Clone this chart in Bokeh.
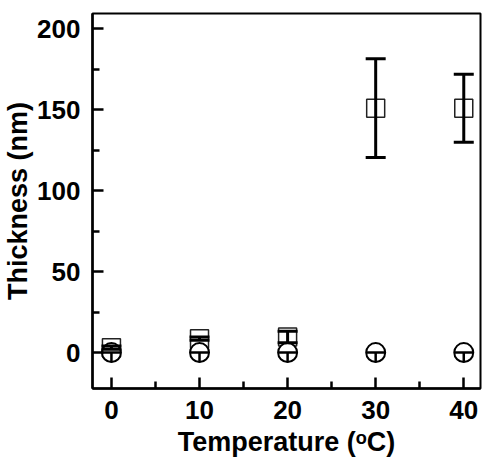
from bokeh.plotting import figure
from bokeh.models import ColumnDataSource, Whisker, TeeHead, Range1d, FixedTicker
from bokeh.embed import file_html
from bokeh.resources import INLINE

# Data
temperature = [0, 10, 20, 30, 40]
sq_thickness = [3.0, 8.6, 9.6, 151.0, 151.0]
sq_error = [1.0, 1.0, 3.6, 30.5, 21.0]
circ_thickness = [0.0, 0.0, 0.0, 0.0, 0.0]
circ_error_low = [6.0, 6.0, 6.0, 6.0, 6.0]
x_ticks = [0, 10, 20, 30, 40]
y_ticks = [0, 50, 100, 150, 200]

sq = ColumnDataSource(dict(
    x=temperature, y=sq_thickness,
    upper=[v + e for v, e in zip(sq_thickness, sq_error)],
    lower=[v - e for v, e in zip(sq_thickness, sq_error)],
))
ci = ColumnDataSource(dict(
    x=temperature, y=circ_thickness,
    upper=circ_thickness,
    lower=[v - e for v, e in zip(circ_thickness, circ_error_low)],
))

p = figure(width=486, height=466, output_backend="svg", toolbar_location=None,
           x_range=Range1d(-2.15, 41.9), y_range=Range1d(-22.2, 209.5),
           min_border_left=90, min_border_right=6, min_border_top=13, min_border_bottom=78)

p.scatter("x", "y", source=sq, marker="square", size=18, fill_alpha=0,
          line_color="#222222", line_width=1.5)
p.scatter("x", "y", source=ci, marker="circle", size=19, fill_color="white",
          line_color="black", line_width=2)

p.add_layout(Whisker(source=sq, base="x", upper="upper", lower="lower",
                     line_width=3, line_color="black", level="overlay",
                     upper_head=TeeHead(size=20, line_width=3, line_color="black"),
                     lower_head=TeeHead(size=20, line_width=3, line_color="black")))
p.add_layout(Whisker(source=ci, base="x", upper="upper", lower="lower",
                     line_width=2.5, line_color="black", level="overlay",
                     upper_head=TeeHead(size=19, line_width=2.5, line_color="black"),
                     lower_head=None))

p.grid.visible = False
p.outline_line_color = "black"
p.outline_line_width = 2
p.background_fill_color = "white"
p.border_fill_color = "white"

font = "Liberation Sans"
for ax in (p.xaxis, p.yaxis):
    ax.axis_line_width = 2.5
    ax.major_tick_line_width = 2.5
    ax.minor_tick_line_width = 2.5
    ax.major_tick_in = 11
    ax.major_tick_out = 0
    ax.minor_tick_in = 7
    ax.minor_tick_out = 0
    ax.major_label_text_font = font
    ax.major_label_text_font_style = "bold"
    ax.major_label_text_font_size = "26px"
    ax.major_label_text_color = "black"
    ax.axis_label_text_font = font
    ax.axis_label_text_font_style = "bold"
    ax.axis_label_text_font_size = "27px"
    ax.axis_label_text_color = "black"

p.xaxis.ticker = FixedTicker(ticks=x_ticks, minor_ticks=[5, 15, 25, 35])
p.yaxis.ticker = FixedTicker(ticks=y_ticks, minor_ticks=[-25, 25, 75, 125, 175])
p.xaxis.axis_label = "Temperature (ᵒC)"
p.yaxis.axis_label = "Thickness (nm)"
p.xaxis.major_label_standoff = 12
p.yaxis.major_label_standoff = 12
p.xaxis.axis_label_standoff = 5
p.yaxis.axis_label_standoff = 1

open("out.html", "w").write(file_html(p, INLINE))
